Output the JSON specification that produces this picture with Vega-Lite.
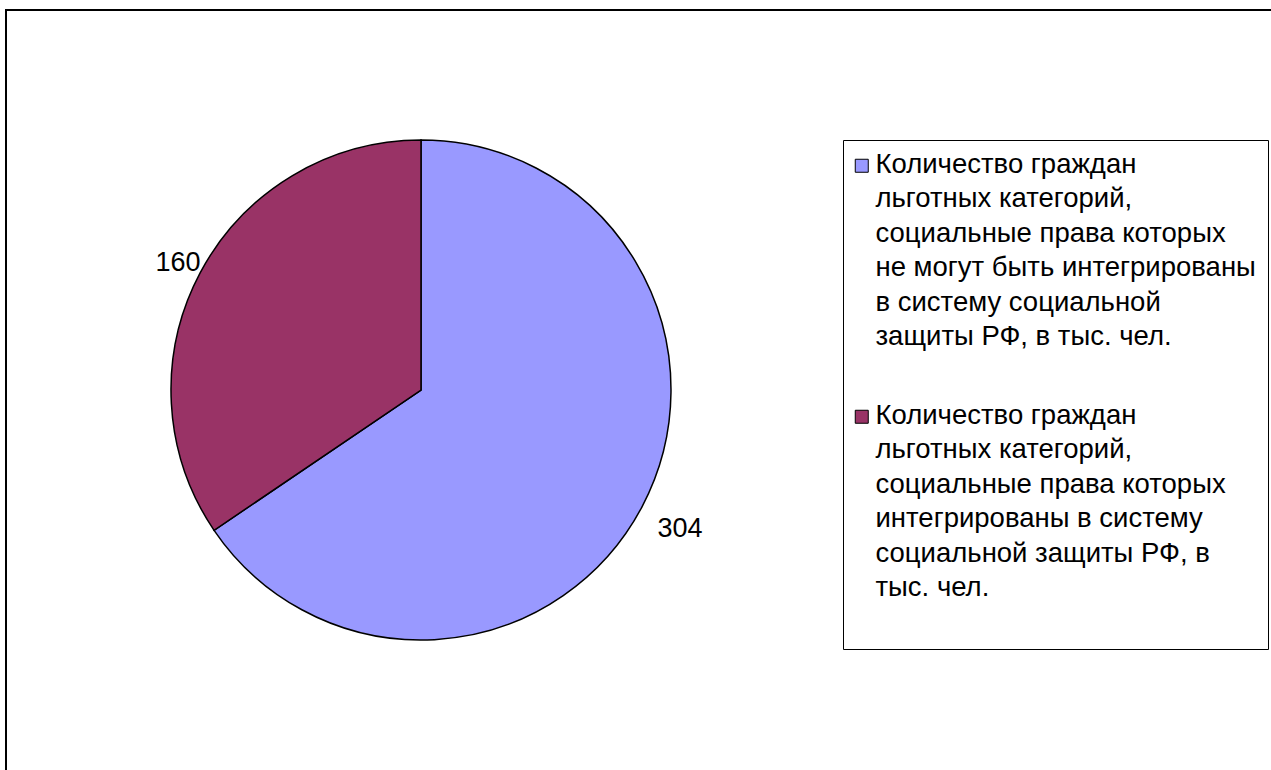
{
  "$schema": "https://vega.github.io/schema/vega-lite/v6.json",
  "width": 1265,
  "height": 760,
  "autosize": {"type": "none"},
  "padding": {"left": 6, "top": 10, "right": 0, "bottom": 0},
  "background": "white",
  "view": {"stroke": "black", "strokeWidth": 2, "strokeDash": [1265, 2025, 760]},
  "data": {
    "values": [
      {"category": "Количество граждан\nльготных категорий,\nсоциальные права которых\nне могут быть интегрированы\nв систему социальной\nзащиты РФ,  в тыс. чел.", "value": 304, "order": 1},
      {"category": "Количество граждан\nльготных категорий,\nсоциальные права которых\nинтегрированы в систему\nсоциальной защиты РФ, в\nтыс. чел.\n", "value": 160, "order": 2}
    ]
  },
  "encoding": {
    "theta": {"field": "value", "type": "quantitative", "stack": true},
    "order": {"field": "order", "type": "quantitative"}
  },
  "layer": [
    {
      "mark": {"type": "arc", "x": 415, "y": 380, "radius": 250, "stroke": "black", "strokeWidth": 1.5},
      "encoding": {
        "color": {
          "field": "category",
          "type": "nominal",
          "sort": {"field": "order"},
          "scale": {"range": ["#9999FF", "#993366"]},
          "legend": {
            "orient": "none",
            "legendX": 837,
            "legendY": 130,
            "title": null,
            "symbolType": "square",
            "symbolSize": 169,
            "symbolStrokeColor": "black",
            "symbolStrokeWidth": 1,
            "symbolOffset": -7,
            "labelFont": "Liberation Sans",
            "labelFontSize": 27.5,
            "labelColor": "black",
            "labelLimit": 600,
            "labelBaseline": "top",
            "labelOffset": 0,
            "padding": 12,
            "rowPadding": 50,
            "strokeColor": "black",
            "fillColor": "white",
            "labelExpr": "split(datum.label, '\\n')",
            "encode": {
              "labels": {"update": {"dy": {"value": -15}, "lineHeight": {"value": 34.5}}}
            }
          }
        }
      }
    },
    {
      "mark": {"type": "text", "x": 415, "y": 380, "radius": 284, "dx": 8, "dy": 6, "font": "Liberation Sans", "fontSize": 27, "color": "black"},
      "encoding": {
        "text": {"field": "value", "type": "quantitative"}
      }
    }
  ]
}
